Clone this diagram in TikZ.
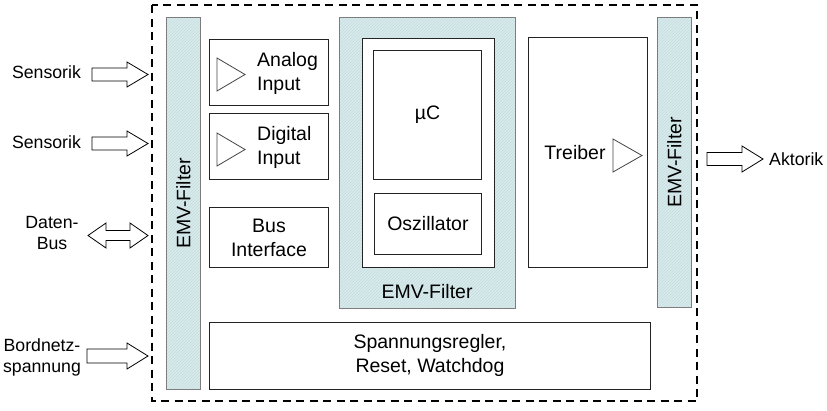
\documentclass[tikz,border=0pt]{standalone}
\usepackage{fontspec}
\setmainfont{Liberation Sans}
\usetikzlibrary{patterns}
\definecolor{emvfill}{RGB}{216,236,238}
\definecolor{emvhatch}{RGB}{196,218,222}
\definecolor{boxline}{RGB}{35,35,35}
\definecolor{filterline}{RGB}{125,125,125}
\tikzset{
  blk/.style={draw=boxline, line width=0.9pt, fill=white, inner sep=0, anchor=north west},
  emv/.style={draw=filterline, line width=0.9pt, preaction={fill=emvfill}, pattern=north east lines, pattern color=emvhatch, inner sep=0, anchor=north west},
  lbl/.style={font=\fontsize{19.5}{24}\selectfont, align=center, inner sep=0},
  olbl/.style={font=\fontsize{17.7}{21}\selectfont, align=center, inner sep=0},
  barrow/.style={draw=black, line width=0.8pt, fill=white, line join=miter},
  amp/.style={draw=boxline!85, line width=0.8pt, line join=miter},
  outer/.style={draw=black, line width=2.2pt, dash pattern=on 8pt off 5.5pt}
}
\begin{document}
\begin{tikzpicture}[x=1pt,y=-1pt]
\useasboundingbox (0,0) rectangle (827,410);
% outer dashed frame
\draw[outer] (152,5) rectangle (697,401);

% left EMV filter
\node[emv, minimum width=34, minimum height=372] (emvL) at (166,17) {};
\node[lbl, rotate=90] (emvLt) at (emvL.center) {EMV-Filter};

% input blocks
\node[blk, minimum width=119, minimum height=66] (analog) at (209,39) {};
\draw[amp] (217,58) -- (217,91) -- (245,74.5) -- cycle;
\node[lbl, align=left, anchor=west] (analogt) at (257,73) {Analog\\Input};

\node[blk, minimum width=119, minimum height=66] (digital) at (209,113) {};
\draw[amp] (217,133) -- (217,166) -- (245,149.5) -- cycle;
\node[lbl, align=left, anchor=west] (digitalt) at (257,147) {Digital\\Input};

\node[blk, minimum width=119, minimum height=60] (bus) at (209,207) {};
\node[lbl] (bust) at (bus.center) {Bus\\Interface};

% middle EMV filter with uC
\node[emv, minimum width=176, minimum height=291] (emvM) at (339,17) {};
\node[blk, minimum width=132, minimum height=229] (core) at (362,38) {};
\node[blk, minimum width=108, minimum height=129] (uc) at (373,50) {};
\node[lbl] (uct) at (uc.center) {µC};
\node[blk, minimum width=107, minimum height=61] (osz) at (374,193) {};
\node[lbl] (oszt) at (osz.center) {Oszillator};
\node[lbl] (emvMt) at (427,292) {EMV-Filter};

% driver
\node[blk, minimum width=119, minimum height=230] (treiber) at (528,37) {};
\node[lbl] (treibert) at (575,153) {Treiber};
\draw[amp] (613,139) -- (613,172) -- (642,155.5) -- cycle;

% right EMV filter
\node[emv, minimum width=34, minimum height=290] (emvR) at (657,17) {};
\node[lbl, rotate=90] (emvRt) at (emvR.center) {EMV-Filter};

% power supply block
\node[blk, minimum width=441, minimum height=67] (power) at (209,322) {};
\node[lbl] (powert) at (power.center) {Spannungsregler,\\Reset, Watchdog};

% outer labels
\node[olbl] (sens1) at (46.5,72) {Sensorik};
\node[olbl] (sens2) at (46.5,142) {Sensorik};
\node[olbl] (daten) at (52,232.5) {Daten-\\Bus};
\node[olbl] (bord) at (42,357.5) {Bordnetz-\\spannung};
\node[olbl, anchor=west] (akt) at (769,159) {Aktorik};

% block arrows
\draw[barrow] (92,68) -- (127,68) -- (127,62) -- (148,74.5) -- (127,87) -- (127,81) -- (92,81) -- cycle;
\draw[barrow] (92,137) -- (127,137) -- (127,131) -- (148,143.5) -- (127,156) -- (127,150) -- (92,150) -- cycle;
\draw[barrow] (88,235.5) -- (106,223) -- (106,230.5) -- (130,230.5) -- (130,223) -- (148,235.5)
  -- (130,248) -- (130,240.5) -- (106,240.5) -- (106,248) -- cycle;
\draw[barrow] (87,349) -- (127,349) -- (127,343) -- (148,356) -- (127,369) -- (127,363) -- (87,363) -- cycle;
\draw[barrow] (707,152.5) -- (742,152.5) -- (742,146) -- (763,159) -- (742,172) -- (742,165.5) -- (707,165.5) -- cycle;
\end{tikzpicture}
\end{document}
